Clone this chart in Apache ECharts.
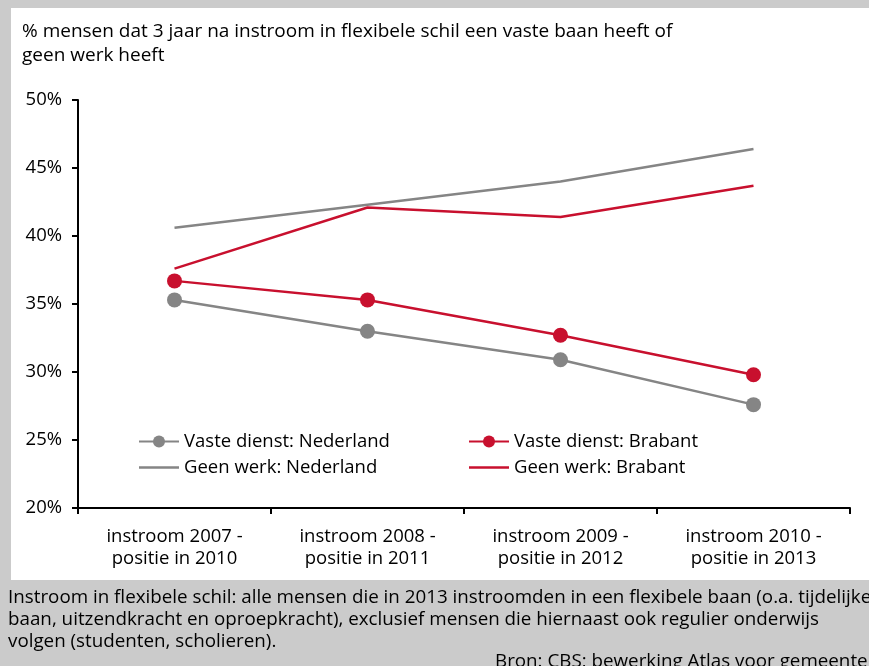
<!DOCTYPE html>
<html>
<head>
<meta charset="utf-8">
<script src="https://cdn.jsdelivr.net/npm/echarts@6/dist/echarts.min.js"></script>
<style>
  html, body { margin: 0; padding: 0; background: #cbcbcb; }
  #chart { width: 869px; height: 666px; }
</style>
</head>
<body>
<div id="chart"></div>
<script>
  const categories = ['instroom 2007 -\npositie in 2010', 'instroom 2008 -\npositie in 2011',
    'instroom 2009 -\npositie in 2012', 'instroom 2010 -\npositie in 2013'];
  const vasteNederland = [35.3, 33.0, 30.9, 27.6];
  const vasteBrabant = [36.7, 35.3, 32.7, 29.8];
  const geenWerkNederland = [40.6, 42.3, 44.0, 46.4];
  const geenWerkBrabant = [37.6, 42.1, 41.4, 43.7];
  const yTicks = [20, 25, 30, 35, 40, 45, 50];

  const grey = '#858585';
  const red = '#c8102e';
  const font = '"Open Sans", "Noto Sans", sans-serif';
  // plain line icon for the series without markers
  const lineIcon = 'path://M0,0L42,0L42,2.5L0,2.5Z';

  const myChart = echarts.init(document.getElementById('chart'), null, { renderer: 'canvas' });

  const option = {
    backgroundColor: '#cbcbcb',
    animation: false,
    textStyle: { fontFamily: font },
    graphic: [
      { type: 'rect', z: -10, shape: { x: 11, y: 8, width: 858, height: 572 }, style: { fill: '#ffffff' } },
      { type: 'text', x: 22, y: 20, style: { text: '% mensen dat 3 jaar na instroom in flexibele schil een vaste baan heeft of\ngeen werk heeft', font: '19px ' + font, fill: '#000', lineHeight: 24 } },
      { type: 'text', x: 8, y: 587, style: { text: 'Instroom in flexibele schil: alle mensen die in 2013 instroomden in een flexibele baan (o.a. tijdelijke\nbaan, uitzendkracht en oproepkracht), exclusief mensen die hiernaast ook regulier onderwijs\nvolgen (studenten, scholieren).', font: '18.8px ' + font, fill: '#000', lineHeight: 22 } },
      { type: 'text', x: 495, y: 652, style: { text: 'Bron: CBS; bewerking Atlas voor gemeenten', font: '18.8px ' + font, fill: '#000' } }
    ],
    grid: { left: 78, right: 19, top: 100, bottom: 158, containLabel: false },
    legend: [
      {
        left: 133, top: 427, orient: 'vertical', itemWidth: 40, itemHeight: 15, itemGap: 7,
        textStyle: { fontSize: 18.5, color: '#000', fontFamily: font },
        data: ['Vaste dienst: Nederland', { name: 'Geen werk: Nederland', icon: lineIcon }]
      },
      {
        left: 463, top: 427, orient: 'vertical', itemWidth: 40, itemHeight: 15, itemGap: 7,
        textStyle: { fontSize: 18.5, color: '#000', fontFamily: font },
        data: ['Vaste dienst: Brabant', { name: 'Geen werk: Brabant', icon: lineIcon }]
      }
    ],
    xAxis: {
      type: 'category',
      data: categories,
      boundaryGap: true,
      axisLine: { lineStyle: { color: '#000', width: 2 } },
      axisTick: { show: true, length: 6, lineStyle: { color: '#000', width: 2 } },
      axisLabel: { color: '#000', fontSize: 18.5, lineHeight: 22, margin: 18, fontFamily: font }
    },
    yAxis: {
      type: 'value',
      min: 20, max: 50, interval: 5,
      axisLine: { show: true, lineStyle: { color: '#000', width: 2 } },
      axisTick: { show: true, length: 6, lineStyle: { color: '#000', width: 2 } },
      splitLine: { show: false },
      axisLabel: {
        color: '#000', fontSize: 18.5, margin: 16, fontFamily: font,
        formatter: v => yTicks.includes(v) ? v + '%' : ''
      }
    },
    series: [
      {
        name: 'Vaste dienst: Nederland', type: 'line', data: vasteNederland,
        symbol: 'circle', symbolSize: 15, color: grey,
        lineStyle: { color: grey, width: 2.5 }, itemStyle: { color: grey }
      },
      {
        name: 'Geen werk: Nederland', type: 'line', data: geenWerkNederland,
        symbol: 'none', color: grey,
        lineStyle: { color: grey, width: 2.5 }
      },
      {
        name: 'Vaste dienst: Brabant', type: 'line', data: vasteBrabant,
        symbol: 'circle', symbolSize: 15, color: red,
        lineStyle: { color: red, width: 2.5 }, itemStyle: { color: red }
      },
      {
        name: 'Geen werk: Brabant', type: 'line', data: geenWerkBrabant,
        symbol: 'none', color: red,
        lineStyle: { color: red, width: 2.5 }
      }
    ]
  };
  myChart.setOption(option);
</script>
</body>
</html>
